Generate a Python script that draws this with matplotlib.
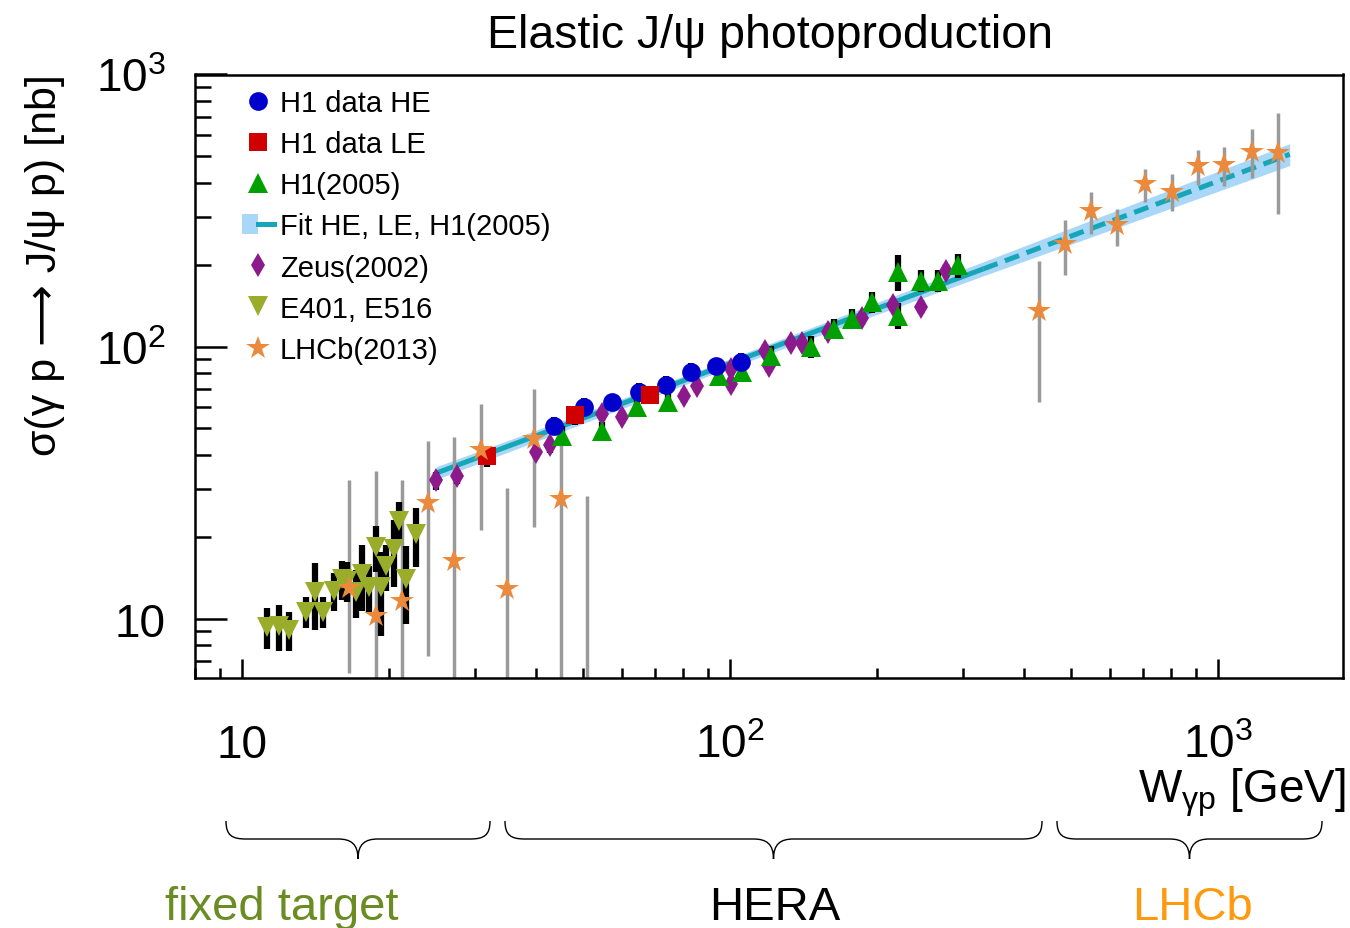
import numpy as np
import matplotlib
matplotlib.use('Agg')
import matplotlib.pyplot as plt
from matplotlib.patches import Patch, PathPatch
from matplotlib.lines import Line2D
from matplotlib.path import Path
from matplotlib.legend_handler import HandlerTuple
from matplotlib.ticker import FixedLocator, LogLocator, NullFormatter

plt.rcParams['font.family'] = ['Liberation Sans', 'DejaVu Sans']
plt.rcParams['mathtext.fontset'] = 'custom'
plt.rcParams['mathtext.rm'] = 'Liberation Sans'
plt.rcParams['mathtext.it'] = 'Liberation Sans:italic'
plt.rcParams['mathtext.bf'] = 'Liberation Sans:bold'

# ---------------- data ----------------
h1he_W = [43.5, 50.1, 57.2, 65.0, 73.8, 83.0, 93.4, 105.1]
h1he_sig = [51.2, 60.2, 62.3, 68.3, 72.5, 80.9, 85.1, 88.1]
h1he_err = [4.0, 4.5, 4.5, 5.0, 5.5, 6.0, 6.0, 6.5]

h1le_W = [31.7, 48.1, 68.4]
h1le_sig = [39.7, 55.8, 66.6]
h1le_err = [3.5, 4.5, 5.0]

h105_W = [45.2, 54.6, 64.4, 74.5, 94.7, 105.6, 121.0, 146.1, 162.9, 177.3,
          194.9, 220.3, 220.3, 245.5, 266.0, 292.4]
h105_sig = [47.1, 49.1, 60.2, 62.8, 78.2, 80.9, 92.7, 100.0, 116.5, 126.8,
            146.3, 188.7, 130.0, 174.8, 174.8, 198.6]
h105_err = [3.8, 3.9, 4.8, 5.0, 6.3, 6.5, 7.4, 9.0, 10.0, 11.0,
            13.0, 28.0, 14.0, 16.0, 16.0, 20.0]

zeus_W = [24.95, 27.5, 40.0, 42.7, 54.6, 60.0, 80.3, 85.4, 100.2, 100.2,
          117.7, 119.9, 133.0, 140.1, 158.3, 185.8, 215.1, 245.5, 276.2]
zeus_sig = [32.2, 33.3, 41.1, 43.3, 56.7, 55.3, 66.0, 71.9, 73.1, 83.0,
            96.7, 85.1, 103.4, 103.4, 113.5, 127.8, 142.7, 140.3, 190.3]
zeus_err = [2.5, 2.0, 2.5, 2.6, 3.4, 3.3, 4.0, 4.3, 4.4, 5.0,
            5.8, 5.1, 6.2, 6.2, 6.8, 7.7, 8.6, 8.4, 11.4]

e401_W = [11.25, 11.90, 12.48, 13.52, 14.11, 14.65, 15.43, 16.02, 16.40, 17.12,
          17.61, 18.20, 18.80, 19.25, 19.71, 20.47, 20.96, 21.66, 22.71]
e401_sig = [9.35, 9.42, 9.11, 10.61, 12.57, 10.61, 12.67, 14.03, 13.80, 12.57,
            14.64, 13.11, 18.40, 13.11, 15.66, 18.09, 22.93, 14.03, 20.54]
e401_err = [1.6, 1.8, 1.5, 1.4, 3.5, 1.4, 2.0, 2.3, 2.3, 2.5,
            4.0, 2.5, 3.5, 4.5, 3.0, 5.0, 4.0, 4.5, 5.0]

lhcb_W = [16.56, 18.8, 21.26, 24.04, 27.2, 30.9, 34.9, 39.6, 45.0, 50.8,
          428, 484, 547, 621, 706, 802, 910, 1028, 1169, 1327]
lhcb_sig = [13.0, 10.26, 11.65, 26.5, 16.3, 41.5, 12.9, 45.9, 27.6, 4.5,
            135.5, 239, 316, 279, 397, 371, 462, 464, 521, 513]
lhcb_lo = [6.3, 3.0, 3.0, 7.31, 3.0, 21.1, 3.0, 21.8, 3.0, 3.0,
           62.8, 184, 260, 235, 341, 316, 394, 388, 418, 308]
lhcb_hi = [32.2, 35.0, 32.2, 45.1, 46.7, 61.7, 30.1, 70.1, 49.9, 28.3,
           207, 293, 371, 319, 451, 429, 526, 543, 628, 719]

fit_W = [25, 90, 330, 1400]
fit_sig = [34.3, 81, 193, 509]
fit_lo = [32.5, 78.0, 182, 463]
fit_hi = [36.2, 84.0, 205, 557]

xtick_vals = [10, 100, 1000]
xtick_labels = ['10', r'$\mathregular{10^{2}}$', r'$\mathregular{10^{3}}$']
ytick_vals = [10, 100, 1000]
ytick_labels = ['10', r'$\mathregular{10^{2}}$', r'$\mathregular{10^{3}}$']

regions = ['fixed target', 'HERA', 'LHCb']

# ---------------- colours ----------------
c_blue = '#0000cc'
c_red = '#d00000'
c_green = '#00a000'
c_purple = '#8c1a8c'
c_olive = '#9aad2a'
c_orange = '#eb8a3c'
c_grey = '#9a9a9a'
c_teal = '#17a5b8'
c_band = '#a9d7f7'

W_PX, H_PX = 1350, 929
fig = plt.figure(figsize=(W_PX / 100, H_PX / 100), dpi=100)

# overlay in pixel coordinates (for braces, labels)
ov = fig.add_axes([0, 0, 1, 1])
ov.set_xlim(0, W_PX)
ov.set_ylim(H_PX, 0)
ov.axis('off')
ov.patch.set_alpha(0)

left, right, top, bottom = 195, 1343, 75.5, 679
ax = fig.add_axes([left / W_PX, 1 - bottom / H_PX, (right - left) / W_PX, (bottom - top) / H_PX])
ax.set_xscale('log')
ax.set_yscale('log')
ax.set_xlim(8, 1800)
ax.set_ylim(6.05, 1000)

# fit band and line
ax.fill_between(fit_W, fit_lo, fit_hi, color=c_band, lw=0, zorder=1)
ax.plot(fit_W[:3], fit_sig[:3], color=c_teal, lw=3.6, zorder=2, solid_capstyle='butt')
ax.plot(fit_W[2:], fit_sig[2:], color=c_teal, lw=3.6, ls=(0, (3.0, 1.6)), zorder=2)

# LHCb grey bars
lhcb_sig_a = np.array(lhcb_sig)
ax.errorbar(lhcb_W, lhcb_sig,
            yerr=[lhcb_sig_a - np.array(lhcb_lo), np.array(lhcb_hi) - lhcb_sig_a],
            fmt='none', ecolor=c_grey, elinewidth=2.5, capsize=0, zorder=2.5)

# black error bars
for Wv, sv, ev in [(e401_W, e401_sig, e401_err), (h1he_W, h1he_sig, h1he_err),
                   (h1le_W, h1le_sig, h1le_err), (h105_W, h105_sig, h105_err),
                   (zeus_W, zeus_sig, zeus_err)]:
    ax.errorbar(Wv, sv, yerr=ev, fmt='none', ecolor='black', elinewidth=4.5,
                capsize=0, zorder=3)

mk = dict(ls='none', mew=0, zorder=4)
ax.plot(e401_W, e401_sig, marker='v', ms=15, color=c_olive, **mk)
ax.plot(zeus_W, zeus_sig, marker='d', ms=12, color=c_purple, **mk)
ax.plot(h105_W, h105_sig, marker='^', ms=14, color=c_green, **mk)
ax.plot(h1he_W, h1he_sig, marker='o', ms=13.5, color=c_blue, **mk)
ax.plot(h1le_W, h1le_sig, marker='s', ms=12.5, color=c_red, **mk)
ax.plot(lhcb_W, lhcb_sig, marker='*', ms=17.5, color=c_orange, **mk)

# axes style
for s in ax.spines.values():
    s.set_linewidth(1.8)
ax.xaxis.set_major_locator(FixedLocator(xtick_vals))
ax.set_xticklabels(xtick_labels)
ax.xaxis.set_minor_locator(LogLocator(base=10, subs=np.arange(2, 10) * 1.0, numticks=30))
ax.xaxis.set_minor_formatter(NullFormatter())
ax.yaxis.set_major_locator(FixedLocator(ytick_vals))
ax.set_yticklabels(ytick_labels)
ax.yaxis.set_minor_locator(LogLocator(base=10, subs=np.arange(2, 10) * 1.0, numticks=30))
ax.yaxis.set_minor_formatter(NullFormatter())
ax.tick_params(which='both', direction='in', top=False, right=False, width=1.8)
ax.tick_params(axis='y', which='major', length=23, pad=21, labelsize=33)
ax.tick_params(axis='y', which='minor', length=11.5)
ax.tick_params(axis='x', which='major', length=14, pad=57, labelsize=33)
ax.tick_params(axis='x', which='minor', length=7)
for t in ax.xaxis.get_major_ticks():
    t.label1.set_va('baseline')

# legend
handles = [
    Line2D([], [], ls='none', marker='o', ms=13.5, color=c_blue, mew=0),
    Line2D([], [], ls='none', marker='s', ms=12.5, color=c_red, mew=0),
    Line2D([], [], ls='none', marker='^', ms=14, color=c_green, mew=0),
    (Patch(facecolor=c_band, edgecolor='none'), Line2D([], [], color=c_teal, lw=3.6)),
    Line2D([], [], ls='none', marker='d', ms=12, color=c_purple, mew=0),
    Line2D([], [], ls='none', marker='v', ms=15, color=c_olive, mew=0),
    Line2D([], [], ls='none', marker='*', ms=17.5, color=c_orange, mew=0),
]
labels = ['H1 data HE', 'H1 data LE', 'H1(2005)', 'Fit HE, LE, H1(2005)',
          'Zeus(2002)', 'E401, E516', 'LHCb(2013)']
leg = ax.legend(handles, labels, loc='upper left', bbox_to_anchor=(242, 90),
                bbox_transform=ov.transData, frameon=False, fontsize=21,
                borderpad=0, borderaxespad=0, handlelength=1.1, handletextpad=0.2,
                labelspacing=0.45, handler_map={tuple: HandlerTuple(ndivide=None)})

# texts in pixel coordinates
ov.text(770, 48, 'Elastic J/\u03c8 photoproduction', ha='center', va='baseline', fontsize=33.5)
ov.text(45, 74, '\u03c3(\u03b3 p \u27f6 J/\u03c8 p) [nb]', rotation=90, ha='center', va='top',
        fontsize=31)
ov.text(1346, 803, 'W$_{\\mathregular{\u03b3p}}$ [GeV]', ha='right', va='baseline', fontsize=33)


def brace(x1, x2, yt, ym, ytip, r=20):
    xc = (x1 + x2) / 2
    verts = [(x1, yt), (x1, yt + 0.8 * (ym - yt)), (x1 + 0.3 * r, ym), (x1 + r, ym),
             (xc - r, ym),
             (xc - 0.35 * r, ym), (xc, ym + 0.25 * (ytip - ym)), (xc, ytip),
             (xc, ym + 0.25 * (ytip - ym)), (xc + 0.35 * r, ym), (xc + r, ym),
             (x2 - r, ym),
             (x2 - 0.3 * r, ym), (x2, yt + 0.8 * (ym - yt)), (x2, yt)]
    C, L = Path.CURVE4, Path.LINETO
    codes = [Path.MOVETO, C, C, C, L, C, C, C, C, C, C, L, C, C, C]
    ov.add_patch(PathPatch(Path(verts, codes), fill=False, lw=1.0, edgecolor='black'))


brace(226, 490, 822, 840, 860)
brace(505, 1042, 822, 840, 860)
brace(1057, 1322, 822, 840, 860)

ov.text(282, 920, regions[0], ha='center', va='baseline', fontsize=34, color='#6b8c23')
ov.text(775, 920, regions[1], ha='center', va='baseline', fontsize=34, color='black')
ov.text(1192, 920, regions[2], ha='center', va='baseline', fontsize=34, color='#ff9a10')

fig.savefig('out.png', dpi=100)
